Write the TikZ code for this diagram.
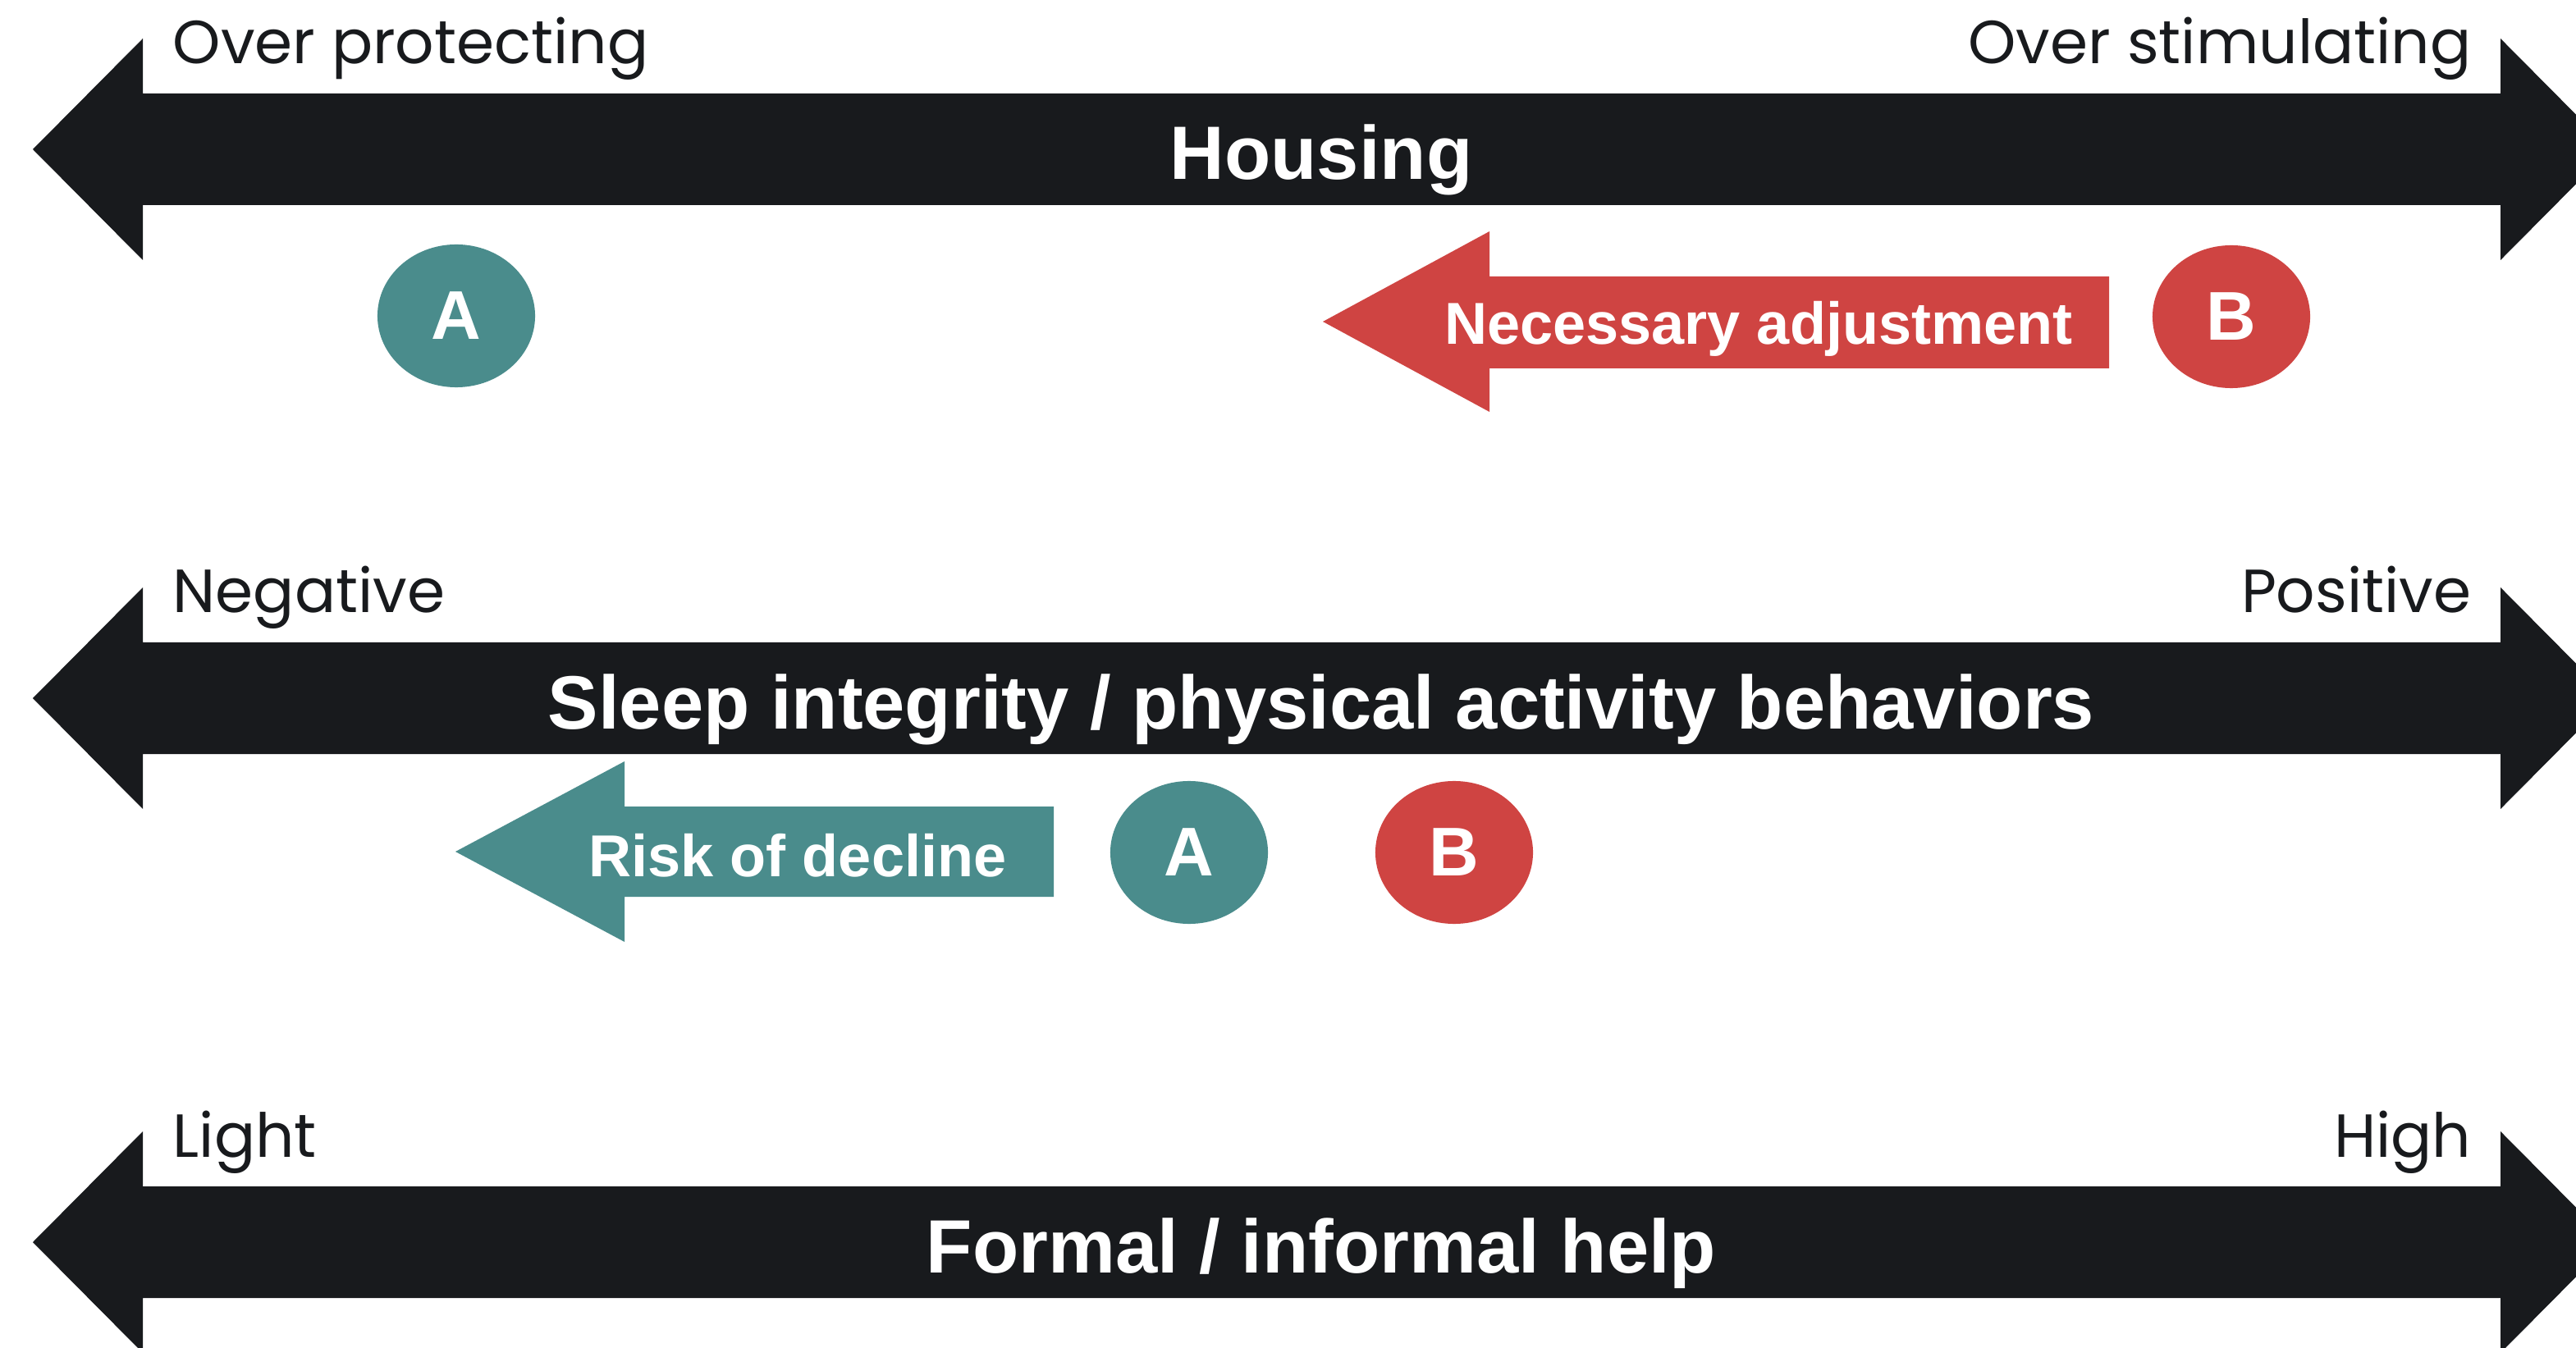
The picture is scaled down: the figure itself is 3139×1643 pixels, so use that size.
\documentclass[tikz,border=0pt]{standalone}
\usepackage{fontspec}
\setmainfont{Liberation Sans}
\newfontfamily\poppins{Poppins}
\usepackage{xcolor}
\usepackage{tikz}
\usetikzlibrary{shapes.geometric,positioning}

\definecolor{barblack}{HTML}{181A1D}
\definecolor{groupA}{HTML}{4A8C8C}
\definecolor{groupB}{HTML}{CF4442}

\begin{document}
\begin{tikzpicture}[x=0.01cm,y=-0.01cm,
  bar/.style={fill=barblack},
  end label/.style={font=\poppins\fontsize{21.1}{24}\selectfont,text=barblack,inner sep=0pt},
  bar title/.style={font=\bfseries\fontsize{26.2}{30}\selectfont,text=white,inner sep=0pt},
  shift text/.style={font=\bfseries\fontsize{20.5}{24}\selectfont,text=white,inner sep=0pt},
  person/.style={ellipse,minimum width=1.92cm,minimum height=1.74cm,inner sep=0pt,
    font=\bfseries\fontsize{23.9}{26}\selectfont,text=white}]

\useasboundingbox (0,0) rectangle (3139,1643);
\clip (0,0) rectangle (3139,1643);

% housing
\fill[bar] (40,182) -- (174,47) -- (174,114) -- (3047,114) -- (3047,47) -- (3181,182)
  -- (3047,317) -- (3047,250) -- (174,250) -- (174,317) -- cycle;
\node[bar title,anchor=base] (housing) at (1610,219) {Housing};
\node[end label,anchor=base west] (protect) at (210,78) {Over protecting};
\node[end label,anchor=base east] (stimul) at (3012,78) {Over stimulating};

\node[person,fill=groupA] (a1) at (556,385) {A};
\node[person,fill=groupB] (b1) at (2719,386) {B};
\fill[groupB] (1612,392) -- (1815,282) -- (1815,337) -- (2570,337) -- (2570,449)
  -- (1815,449) -- (1815,502) -- cycle;
\node[shift text,anchor=base] (adjust) at (2143,420) {Necessary adjustment};

% sleep / activity
\fill[bar] (40,851) -- (174,716) -- (174,783) -- (3047,783) -- (3047,716) -- (3181,851)
  -- (3047,986) -- (3047,919) -- (174,919) -- (174,986) -- cycle;
\node[bar title,anchor=base] (sleep) at (1610,888) {Sleep integrity / physical activity behaviors};
\node[end label,anchor=base west] (neg) at (210,747) {Negative};
\node[end label,anchor=base east] (pos) at (3012,747) {Positive};

\fill[groupA] (555,1038) -- (761,928) -- (761,983) -- (1284,983) -- (1284,1093)
  -- (761,1093) -- (761,1148) -- cycle;
\node[shift text,anchor=base] (decline) at (972,1068) {Risk of decline};
\node[person,fill=groupA] (a2) at (1449,1039) {A};
\node[person,fill=groupB] (b2) at (1772,1039) {B};

% help
\fill[bar] (40,1514) -- (174,1379) -- (174,1446) -- (3047,1446) -- (3047,1379) -- (3181,1514)
  -- (3047,1649) -- (3047,1582) -- (174,1582) -- (174,1649) -- cycle;
\node[bar title,anchor=base] (help) at (1610,1551) {Formal / informal help};
\node[end label,anchor=base west] (light) at (210,1410) {Light};
\node[end label,anchor=base east] (high) at (3012,1410) {High};
\end{tikzpicture}
\end{document}
